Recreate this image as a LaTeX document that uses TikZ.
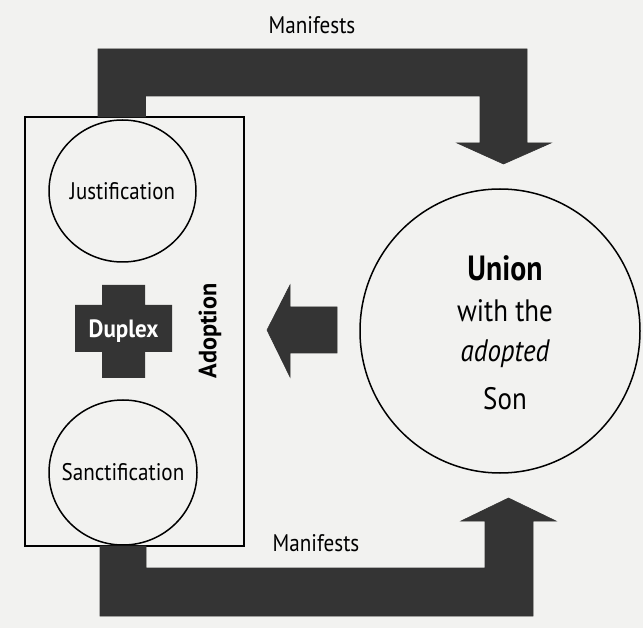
\documentclass[tikz,border=0pt]{standalone}
\usepackage{fontspec}
\setmainfont{PT Sans}
\usetikzlibrary{shapes.geometric}
\definecolor{bgc}{RGB}{242,242,240}
\definecolor{arrowc}{RGB}{52,52,52}
\newcommand\narrowtxt[2]{\scalebox{#1}[1]{#2}}
\begin{document}
\begin{tikzpicture}[x=1pt,y=-1pt,
  outl/.style={draw=black,line width=1.5pt},
  blockarrow/.style={fill=arrowc,draw=black!80,line width=0.6pt,line join=miter},
  lbl/.style={font=\fontsize{24}{27}\selectfont,inner sep=0pt},
  circtext/.style={font=\fontsize{24}{27}\selectfont,inner sep=0pt}]
\fill[bgc] (0,0) rectangle (643,628);
\useasboundingbox (0,0) rectangle (643,628);
% containing box
\node[outl,rectangle,minimum width=219pt,minimum height=429pt,inner sep=0pt] (box) at (134.5,331.5) {};
% ellipses
\node[outl,ellipse,minimum width=147pt,minimum height=142pt,inner sep=0pt] (just) at (122.5,191) {};
\node[circtext] at (just.center) {\narrowtxt{0.87}{Justification}};
\node[outl,ellipse,minimum width=148pt,minimum height=145pt,inner sep=0pt] (sanct) at (123,472.5) {};
\node[circtext] at (sanct.center) {\narrowtxt{0.88}{Sanctification}};
\node[outl,ellipse,minimum width=280pt,minimum height=284pt,inner sep=0pt] (union) at (500,331) {};
\node[font=\fontsize{35}{38}\selectfont\bfseries,inner sep=0pt] (u1) at (505,268) {\narrowtxt{0.85}{Union}};
\node[font=\fontsize{31}{34}\selectfont,inner sep=0pt] (u2) at (505,311) {\narrowtxt{0.87}{with the}};
\node[font=\fontsize{31}{34}\selectfont\itshape,inner sep=0pt] (u3) at (505,354) {\narrowtxt{0.87}{adopted}};
\node[font=\fontsize{31}{34}\selectfont,inner sep=0pt] (u4) at (505,399) {\narrowtxt{0.87}{Son}};
% cross
\coordinate (cx) at (123.5,331);
\fill[arrowc] (102,285) -- (145,285) -- (145,305) -- (172,305) -- (172,352) -- (145,352)
  -- (145,378) -- (102,378) -- (102,352) -- (75,352) -- (75,305) -- (102,305) -- cycle;
\node[font=\fontsize{25}{28}\selectfont\bfseries,text=white,inner sep=0pt] (duplex) at (cx) {\narrowtxt{0.92}{Duplex}};
% Adoption label
\node[font=\fontsize{25}{28}\selectfont\bfseries,rotate=90,inner sep=0pt] (adopt) at (210,331) {\narrowtxt{0.97}{Adoption}};
% middle arrow (union -> box)
\coordinate (mtip) at (267,330);
\filldraw[blockarrow] (mtip) -- (290,285) -- (290,307) -- (337,307) -- (337,353) -- (290,353) -- (290,377) -- cycle;
% top arrow (box -> union)
\coordinate (ttip) at (503.5,164);
\filldraw[blockarrow] (98,117) -- (98,49) -- (527,49) -- (527,143) -- (551,143) -- (ttip)
  -- (457,143) -- (480,143) -- (480,96) -- (145.5,96) -- (145.5,117) -- cycle;
\node[lbl] (m1) at (312,25) {\narrowtxt{0.88}{Manifests}};
% bottom arrow (box -> union)
\coordinate (btip) at (508.5,498);
\filldraw[blockarrow] (100,546) -- (100,616) -- (533,616) -- (533,521) -- (556,521) -- (btip)
  -- (461,521) -- (485,521) -- (485,568) -- (146,568) -- (146,546) -- cycle;
\node[lbl] (m2) at (316,543) {\narrowtxt{0.88}{Manifests}};
\end{tikzpicture}
\end{document}
